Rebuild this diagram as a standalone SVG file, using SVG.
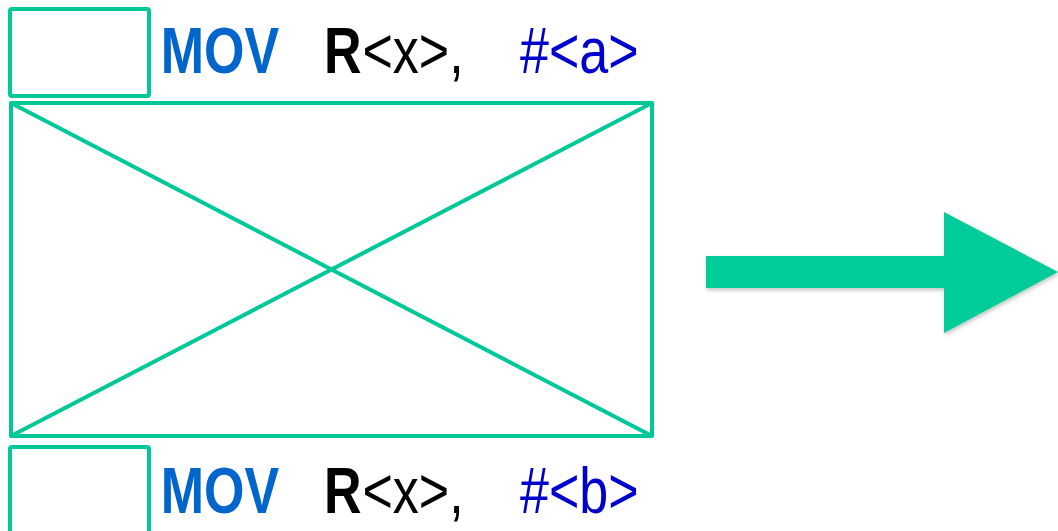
<svg xmlns="http://www.w3.org/2000/svg" width="1058" height="531" viewBox="0 0 1058 531">
<style>
.box{fill:none;stroke:#00C896;stroke-width:4;stroke-linejoin:round}
.t{font-family:"Liberation Sans",Arial,sans-serif;font-size:65px}
.mov{fill:#0066CC;font-weight:bold}
.reg{fill:#000}
.b{font-weight:bold}
.imm{fill:#0000CC}
</style>
<defs>
<filter id="sh" x="-10%" y="-10%" width="120%" height="130%">
<feDropShadow dx="1" dy="2" stdDeviation="2" flood-color="#000" flood-opacity="0.25"/>
</filter>
</defs>
<g id="top-instr">
<rect class="box" x="10" y="9" width="139" height="87" rx="2"/>
<g transform="scale(0.8,1)">
<text class="t mov" x="201" y="73">MOV</text>
<text class="t reg b" x="405" y="73">R</text>
<text class="t reg" x="453" y="73">&lt;x&gt;,</text>
<text class="t imm" x="650" y="73">#&lt;a&gt;</text>
</g>
</g>
<g id="crossed-box">
<rect class="box" x="11" y="103" width="641" height="333"/>
<line class="box" x1="11" y1="103" x2="652" y2="436"/>
<line class="box" x1="11" y1="436" x2="652" y2="103"/>
</g>
<g id="bottom-instr">
<rect class="box" x="10" y="447" width="139" height="100" rx="2"/>
<g transform="scale(0.8,1)">
<text class="t mov" x="201" y="513">MOV</text>
<text class="t reg b" x="405" y="513">R</text>
<text class="t reg" x="453" y="513">&lt;x&gt;,</text>
<text class="t imm" x="650" y="513">#&lt;b&gt;</text>
</g>
</g>
<g id="connectors">
<polygon points="706,256 944,256 944,212 1058,272 944,333 944,288 706,288" fill="#00CC99" filter="url(#sh)"/>
</g>
</svg>
